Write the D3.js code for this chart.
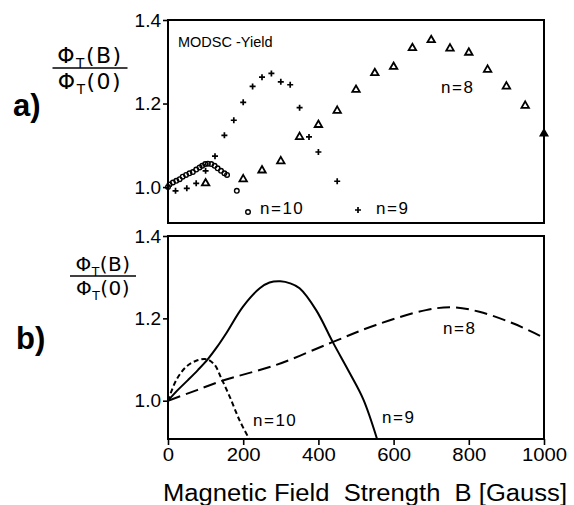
<!DOCTYPE html>
<html>
<head>
<meta charset="utf-8">
<script src="https://cdn.jsdelivr.net/npm/d3@7"></script>
<style>
  body { margin: 0; background: #fff; }
  svg { font-family: "Liberation Sans", Arial, sans-serif; }
  .tick text { font-size: 19px; fill: #000; }
  .tick line { stroke: #000; stroke-width: 1.6; }
</style>
</head>
<body>
<div id="chart"></div>
<script>
// a) measured MODSC yield
const n8_B   = [100, 200, 250, 300, 350, 400, 450, 500, 550, 600, 650, 700, 750, 800, 850, 900, 950];
const n8_val = [1.009, 1.019, 1.040, 1.062, 1.120, 1.149, 1.183, 1.233, 1.273, 1.288, 1.333, 1.352, 1.332, 1.322, 1.281, 1.241, 1.195];
const n8_last = [1000, 1.128];

const n9_B   = [20, 50, 75, 100, 125, 150, 175, 200, 225, 250, 275, 300, 325, 350, 375, 400, 450];
const n9_val = [0.991, 0.997, 1.009, 1.039, 1.074, 1.124, 1.160, 1.203, 1.241, 1.263, 1.272, 1.252, 1.245, 1.190, 1.120, 1.084, 1.014];

const n10_B   = [0, 4, 13, 22, 31, 39, 48, 57, 66, 75, 84, 91, 99, 106, 115, 124, 132, 141, 150, 157, 183];
const n10_val = [1.000, 1.006, 1.011, 1.015, 1.019, 1.025, 1.029, 1.033, 1.036, 1.042, 1.047, 1.051, 1.055, 1.056, 1.055, 1.051, 1.045, 1.039, 1.033, 1.029, 0.991];

// b) calculated curves
const c9_B   = [0, 25, 53, 80, 106, 130, 155, 199, 244, 270, 299, 325, 350, 394, 439, 484, 520, 556];
const c9_val = [1.0, 1.025, 1.05, 1.075, 1.101, 1.13, 1.164, 1.228, 1.273, 1.287, 1.290, 1.285, 1.273, 1.220, 1.141, 1.066, 1.002, 0.907];

const c10_B   = [0, 22, 49, 75, 102, 124, 142, 164, 190, 216];
const c10_val = [1.0, 1.05, 1.083, 1.097, 1.101, 1.087, 1.054, 1.010, 0.953, 0.907];

const c8_B   = [0, 66, 146, 288, 434, 553, 686, 757, 828, 917, 1000];
const c8_val = [1.0, 1.022, 1.049, 1.087, 1.141, 1.184, 1.220, 1.227, 1.216, 1.188, 1.153];

const y_ticks = [1.0, 1.2, 1.4];
const x_ticks = [0, 200, 400, 600, 800, 1000];

const svg = d3.select('#chart').append('svg')
  .attr('width', 574).attr('height', 505);

const x = d3.scaleLinear().domain([0, 1000]).range([168, 544]);
const y_a = d3.scaleLinear().domain([0.914, 1.4]).range([223, 20]);
const y_b = d3.scaleLinear().domain([0.907, 1.4]).range([439, 236]);

function frame(y)
{
  svg.append('rect')
    .attr('x', x(0)).attr('y', y.range()[1])
    .attr('width', x(1000) - x(0)).attr('height', y.range()[0] - y.range()[1])
    .attr('fill', 'none').attr('stroke', '#000').attr('stroke-width', 2);

  const ax = svg.append('g')
    .attr('transform', `translate(${x(0)},0)`)
    .call(d3.axisLeft(y).tickValues(y_ticks).tickSize(5).tickPadding(2).tickFormat(d3.format('.1f')));
  ax.select('.domain').remove();
}

function ylabel(o, panel)
{
  const g = svg.append('g')
    .attr('font-family', '"DejaVu Sans", sans-serif')
    .attr('font-size', o.fs).attr('letter-spacing', o.ls);
  const rows = [['(B)', o.line - 5], ['(0)', o.line + o.fs - 1]];
  rows.forEach(r => {
    const t = g.append('text').attr('x', o.cx).attr('y', r[1]).attr('text-anchor', 'middle');
    t.append('tspan').text('Φ');
    t.append('tspan').attr('font-size', o.fs * 0.62).attr('dy', 5).text('T');
    t.append('tspan').attr('dy', -5).text(r[0]);
  });
  g.append('line')
    .attr('x1', o.cx - o.w / 2).attr('x2', o.cx + o.w / 2)
    .attr('y1', o.line).attr('y2', o.line)
    .attr('stroke', '#000').attr('stroke-width', 1.6);
  svg.append('text').attr('x', o.px).attr('y', o.py)
    .attr('font-size', 31).attr('font-weight', 'bold').text(panel);
}

// panel a
frame(y_a);
ylabel({cx: 90, line: 68, w: 75, fs: 22, ls: 1.5, px: 13, py: 116}, 'a)');

svg.append('text').attr('x', 178).attr('y', 47).attr('font-size', 14.5).text('MODSC -Yield');

const tri = d3.symbol().type(d3.symbolTriangle).size(24);

svg.append('g').selectAll('path')
  .data(n8_B.map((b, i) => [b, n8_val[i]]))
  .enter().append('path')
  .attr('d', tri)
  .attr('transform', d => `translate(${x(d[0])},${y_a(d[1])})`)
  .attr('fill', 'none').attr('stroke', '#000').attr('stroke-width', 1.8);

svg.append('path').attr('d', tri)
  .attr('transform', `translate(${x(n8_last[0])},${y_a(n8_last[1])})`)
  .attr('fill', '#000').attr('stroke', '#000').attr('stroke-width', 1.5);

function draw_plus(g, px, py)
{
  g.append('path')
    .attr('d', `M${px - 3},${py}H${px + 3}M${px},${py - 3}V${py + 3}`)
    .attr('stroke', '#000').attr('stroke-width', 1.7);
}

const plus_g = svg.append('g');
n9_B.forEach((b, i) => draw_plus(plus_g, x(b), y_a(n9_val[i])));

svg.append('g').selectAll('circle')
  .data(n10_B.map((b, i) => [b, n10_val[i]]))
  .enter().append('circle')
  .attr('cx', d => x(d[0])).attr('cy', d => y_a(d[1])).attr('r', 2.3)
  .attr('fill', 'none').attr('stroke', '#000').attr('stroke-width', 1.4);

// legend markers
svg.append('circle').attr('cx', 248).attr('cy', 212).attr('r', 2.3)
  .attr('fill', 'none').attr('stroke', '#000').attr('stroke-width', 1.4);
draw_plus(svg, 358, 210);

function nlabel(px, py, s)
{
  svg.append('text').attr('x', px).attr('y', py).attr('font-size', 17)
    .attr('letter-spacing', 1.5).text(s);
}
nlabel(260, 214, 'n=10');
nlabel(376, 214, 'n=9');
nlabel(441, 93, 'n=8');

// panel b
frame(y_b);
ylabel({cx: 103, line: 276, w: 66, fs: 20, ls: 0.5, px: 16, py: 349}, 'b)');

svg.append('defs').append('clipPath').attr('id', 'clip_b')
  .append('rect').attr('x', x(0)).attr('y', 236).attr('width', x(1000) - x(0)).attr('height', 203);

const line_b = d3.line()
  .x(d => x(d[0])).y(d => y_b(d[1]))
  .curve(d3.curveCatmullRom.alpha(0.5));

const curves = svg.append('g').attr('clip-path', 'url(#clip_b)');
curves.append('path')
  .attr('d', line_b(c9_B.map((b, i) => [b, c9_val[i]])))
  .attr('fill', 'none').attr('stroke', '#000').attr('stroke-width', 2);
curves.append('path')
  .attr('d', line_b(c10_B.map((b, i) => [b, c10_val[i]])))
  .attr('fill', 'none').attr('stroke', '#000').attr('stroke-width', 2)
  .attr('stroke-dasharray', '5,3');
curves.append('path')
  .attr('d', line_b(c8_B.map((b, i) => [b, c8_val[i]])))
  .attr('fill', 'none').attr('stroke', '#000').attr('stroke-width', 2)
  .attr('stroke-dasharray', '13,6');

nlabel(443, 334, 'n=8');
nlabel(253, 426, 'n=10');
nlabel(382, 423, 'n=9');

const x_axis = svg.append('g')
  .attr('transform', 'translate(0,439)')
  .call(d3.axisBottom(x).tickValues(x_ticks).tickSize(6).tickPadding(3).tickFormat(d3.format('d')));
x_axis.select('.domain').remove();
x_axis.selectAll('.tick text')
  .attr('font-size', 23)
  .attr('textLength', d => String(d).length * 11.3)
  .attr('lengthAdjust', 'spacingAndGlyphs');

svg.append('text')
  .attr('x', 163).attr('y', 501).attr('font-size', 23)
  .style('white-space', 'pre')
  .attr('textLength', 404).attr('lengthAdjust', 'spacingAndGlyphs')
  .text('Magnetic Field  Strength  B [Gauss]');
</script>
</body>
</html>
